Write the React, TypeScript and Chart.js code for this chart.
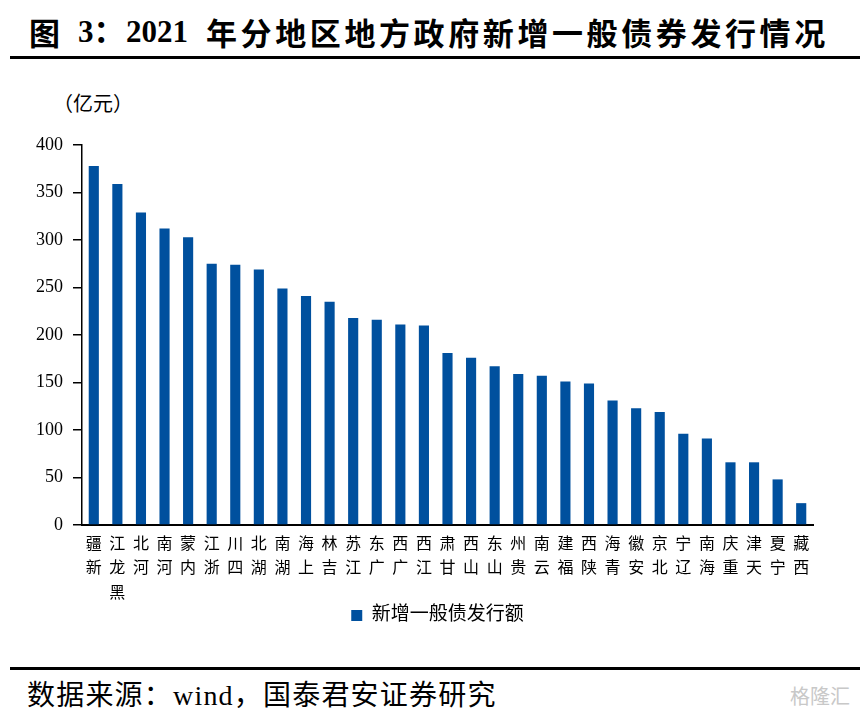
import React, { useEffect, useRef } from 'react';
import { Chart, registerables } from 'chart.js';

Chart.register(...registerables);

const categories = ['新疆', '黑龙江', '河北', '河南', '内蒙', '浙江', '四川', '湖北', '湖南', '上海', '吉林', '江苏', '广东', '广西', '江西', '甘肃', '山西', '山东', '贵州', '云南', '福建', '陕西', '青海', '安徽', '北京', '辽宁', '海南', '重庆', '天津', '宁夏', '西藏'];
const issuance = [378, 359, 329, 312, 303, 275, 274, 269, 249, 241, 235, 218, 216, 211, 210, 181, 176, 167, 159, 157, 151, 149, 131, 123, 119, 96, 91, 66, 66, 48, 23];
const yMin = 0;
const yMax = 400;
const yStep = 50;
const seriesName = '新增一般债发行额';
const titleFig = '图';
const titleNum = '3：';
const titleYear = '2021';
const titleRest = '年分地区地方政府新增一般债券发行情况';
const unitText = '（亿元）';
const sourceText = '数据来源：wind，国泰君安证券研究';
const watermarkText = '格隆汇';

const FONT = "'Liberation Serif', 'Noto Sans CJK SC', serif";
const CJK = "'Noto Sans CJK SC', sans-serif";

const legendShift = {
  id: 'legendShift',
  afterLayout(chart: any) {
    const l = chart.legend;
    if (l) {
      l.left += 31;
      l.right += 31;
    }
  },
};

export default function App() {
  const canvasRef = useRef<HTMLCanvasElement | null>(null);

  useEffect(() => {
    document.body.style.margin = '0';
    const canvas = canvasRef.current;
    if (!canvas) return;
    const chart = new Chart(canvas, {
      type: 'bar',
      data: {
        // stacked characters, bottom-to-top reading order
        labels: categories.map((c) => c.split('').reverse()),
        datasets: [
          {
            label: seriesName,
            data: issuance,
            backgroundColor: '#00509E',
            borderWidth: 0,
            barPercentage: 0.43,
            categoryPercentage: 1,
          },
        ],
      },
      plugins: [legendShift],
      options: {
        animation: false,
        responsive: false,
        maintainAspectRatio: false,
        devicePixelRatio: 1,
        layout: { padding: { top: 145, left: 0, right: 47, bottom: 10 } },
        plugins: {
          legend: {
            position: 'bottom',
            labels: {
              boxWidth: 11,
              boxHeight: 11,
              padding: 4,
              color: '#000',
              font: { family: FONT, size: 19 },
            },
          },
          tooltip: { enabled: false },
        },
        scales: {
          x: {
            grid: { display: false, drawTicks: false },
            border: { display: true, color: '#000', width: 2 },
            ticks: {
              color: '#000',
              autoSkip: false,
              maxRotation: 0,
              minRotation: 0,
              padding: 7,
              font: { family: FONT, size: 16, lineHeight: 1.55 },
            },
            afterFit: (scale: any) => {
              scale.height = 77;
            },
          },
          y: {
            min: yMin,
            max: yMax,
            grid: { drawOnChartArea: false, drawTicks: true, tickLength: 9, color: '#000', lineWidth: 1.5 },
            border: { display: true, color: '#000', width: 1.5 },
            ticks: {
              stepSize: yStep,
              color: '#000',
              padding: 10,
              font: { family: FONT, size: 18 },
            },
            afterFit: (scale: any) => {
              scale.width = 82;
            },
          },
        },
      },
    });
    return () => chart.destroy();
  }, []);

  const titleStyle: React.CSSProperties = {
    position: 'absolute',
    top: 14,
    fontSize: 31,
    fontWeight: 'bold',
    lineHeight: '36px',
    whiteSpace: 'nowrap',
  };

  return (
    <div style={{ position: 'relative', width: 860, height: 714, background: '#fff', fontFamily: FONT, color: '#000' }}>
      <div style={{ ...titleStyle, left: 29, fontFamily: CJK }}>{titleFig}</div>
      <div style={{ ...titleStyle, left: 78 }}>{titleNum}</div>
      <div style={{ ...titleStyle, left: 126 }}>{titleYear}</div>
      <div style={{ ...titleStyle, left: 206, fontFamily: CJK, letterSpacing: '3.6px' }}>{titleRest}</div>
      <div style={{ position: 'absolute', left: 10, top: 56, width: 850, height: 3, background: '#000' }} />
      <div style={{ position: 'absolute', left: 53, top: 92, fontSize: 20, lineHeight: '24px' }}>{unitText}</div>
      <canvas ref={canvasRef} width={860} height={645} style={{ position: 'absolute', left: 0, top: 0, width: 860, height: 645 }} />
      <div style={{ position: 'absolute', left: 10, top: 667, width: 850, height: 3, background: '#000' }} />
      <div style={{ position: 'absolute', left: 27, top: 681, fontSize: 28, lineHeight: '30px', letterSpacing: '1.2px', whiteSpace: 'nowrap' }}>{sourceText}</div>
      <div style={{ position: 'absolute', left: 790, top: 684, fontSize: 20, lineHeight: '24px', color: '#c8c8c8', fontFamily: CJK }}>{watermarkText}</div>
    </div>
  );
}
